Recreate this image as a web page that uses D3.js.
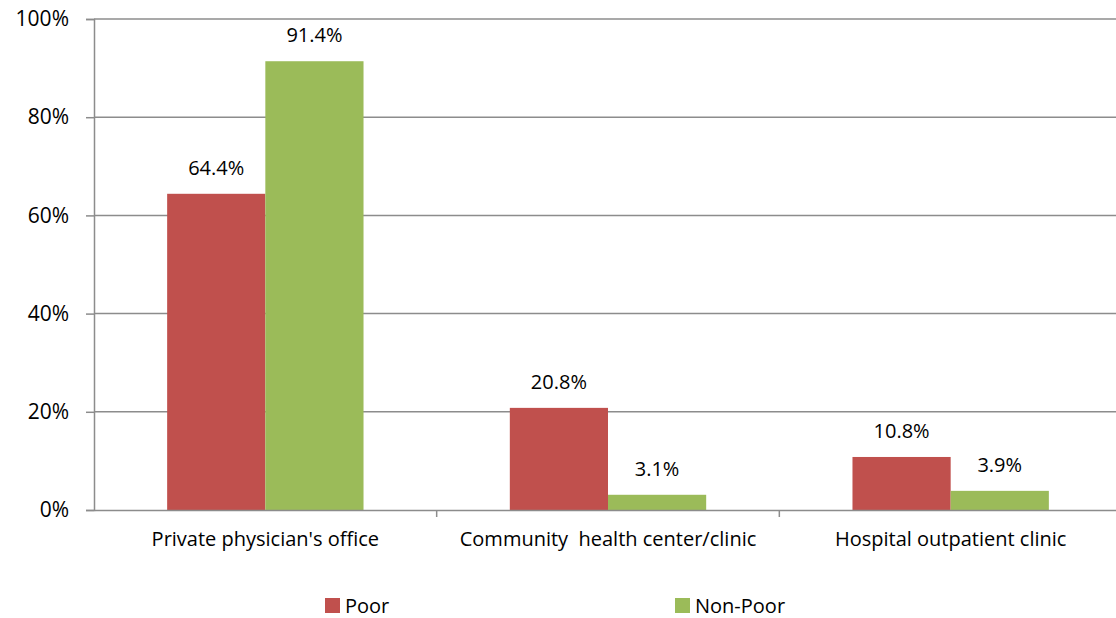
<!DOCTYPE html>
<html lang="en">
<head>
    <meta charset="UTF-8">
    <title>Usual source of care - Poor vs Non-Poor</title>
    <script src="https://d3js.org/d3.v7.min.js"></script>
    <style>
        body { margin: 0; padding: 0; background: #fff; }
        svg { display: block; font-family: "Open Sans", "Noto Sans", sans-serif; }
        text { white-space: pre; }
    </style>
</head>
<body>

<script>
    // Chart data
    const categories = ["Private physician's office", "Community  health center/clinic", "Hospital outpatient clinic"];
    const seriesNames = ["Poor", "Non-Poor"];
    const poorValues = [64.4, 20.8, 10.8];
    const nonPoorValues = [91.4, 3.1, 3.9];
    const yTicks = [0, 20, 40, 60, 80, 100];
    const colors = ["#C0504D", "#9BBB59"];

    const width = 1116, height = 618;
    const margin = { top: 19, right: -6, bottom: 108, left: 94 };

    const svg = d3.select("body").append("svg")
        .attr("width", width)
        .attr("height", height);

    const x0 = d3.scaleBand()
        .domain(categories)
        .range([margin.left, width - margin.right])
        .paddingInner(0)
        .paddingOuter(0);

    const x1 = d3.scaleBand()
        .domain(seriesNames)
        .range([0, x0.bandwidth()])
        .paddingOuter(0.745)
        .paddingInner(0);

    const y = d3.scaleLinear()
        .domain([0, 100])
        .range([height - margin.bottom, margin.top]);

    // Gridlines
    svg.append("g")
        .selectAll("line")
        .data(yTicks.filter(d => d > 0))
        .join("line")
        .attr("x1", margin.left)
        .attr("x2", width)
        .attr("y1", d => y(d))
        .attr("y2", d => y(d))
        .attr("stroke", "#8c8c8c")
        .attr("stroke-width", 1.5);

    // Bars
    const rows = categories.map((c, i) => ({ cat: c, vals: [poorValues[i], nonPoorValues[i]] }));
    const groups = svg.append("g")
        .selectAll("g")
        .data(rows)
        .join("g")
        .attr("transform", d => `translate(${x0(d.cat)},0)`);

    groups.selectAll("rect")
        .data(d => d.vals.map((v, j) => ({ key: seriesNames[j], v, j })))
        .join("rect")
        .attr("x", d => x1(d.key))
        .attr("width", x1.bandwidth())
        .attr("y", d => y(d.v))
        .attr("height", d => y(0) - y(d.v))
        .attr("fill", d => colors[d.j]);

    groups.selectAll("text")
        .data(d => d.vals.map((v, j) => ({ key: seriesNames[j], v, j })))
        .join("text")
        .attr("x", d => x1(d.key) + x1.bandwidth() / 2)
        .attr("y", d => y(d.v) - 19)
        .attr("text-anchor", "middle")
        .attr("font-size", 20)
        .attr("fill", "#000")
        .text(d => d.v.toFixed(1) + "%");

    // Y axis
    const yAxis = svg.append("g")
        .attr("transform", `translate(${margin.left},0)`)
        .call(d3.axisLeft(y).tickValues(yTicks).tickSize(8).tickPadding(17).tickFormat(d => d + "%"));
    yAxis.select(".domain").attr("stroke", "#8c8c8c").attr("stroke-width", 1.5);
    yAxis.selectAll(".tick line").attr("stroke", "#8c8c8c").attr("stroke-width", 1.5);
    yAxis.selectAll(".tick text")
        .attr("font-size", 21)
        .attr("font-family", "'Open Sans', sans-serif")
        .attr("fill", "#000");

    // X axis
    const xAxis = svg.append("g")
        .attr("transform", `translate(0,${y(0)})`)
        .call(d3.axisBottom(x0).tickSize(0).tickPadding(22));
    xAxis.select(".domain").attr("stroke", "#8c8c8c").attr("stroke-width", 1.5);
    xAxis.selectAll(".tick text")
        .attr("font-size", 20)
        .attr("font-family", "'Open Sans', sans-serif")
        .attr("fill", "#000");

    // Category separator ticks
    svg.append("g")
        .selectAll("line")
        .data(categories)
        .join("line")
        .attr("x1", d => x0(d) + x0.bandwidth())
        .attr("x2", d => x0(d) + x0.bandwidth())
        .attr("y1", y(0))
        .attr("y2", y(0) + 7)
        .attr("stroke", "#8c8c8c")
        .attr("stroke-width", 1.5);

    // Legend
    const legendX = [325, 675];
    const legend = svg.append("g")
        .selectAll("g")
        .data(seriesNames)
        .join("g")
        .attr("transform", (d, i) => `translate(${legendX[i]},598)`);
    legend.append("rect")
        .attr("width", 15)
        .attr("height", 15)
        .attr("fill", (d, i) => colors[i]);
    legend.append("text")
        .attr("x", 20)
        .attr("y", 15)
        .attr("font-size", 20)
        .attr("fill", "#000")
        .text(d => d);
</script>

</body>
</html>
